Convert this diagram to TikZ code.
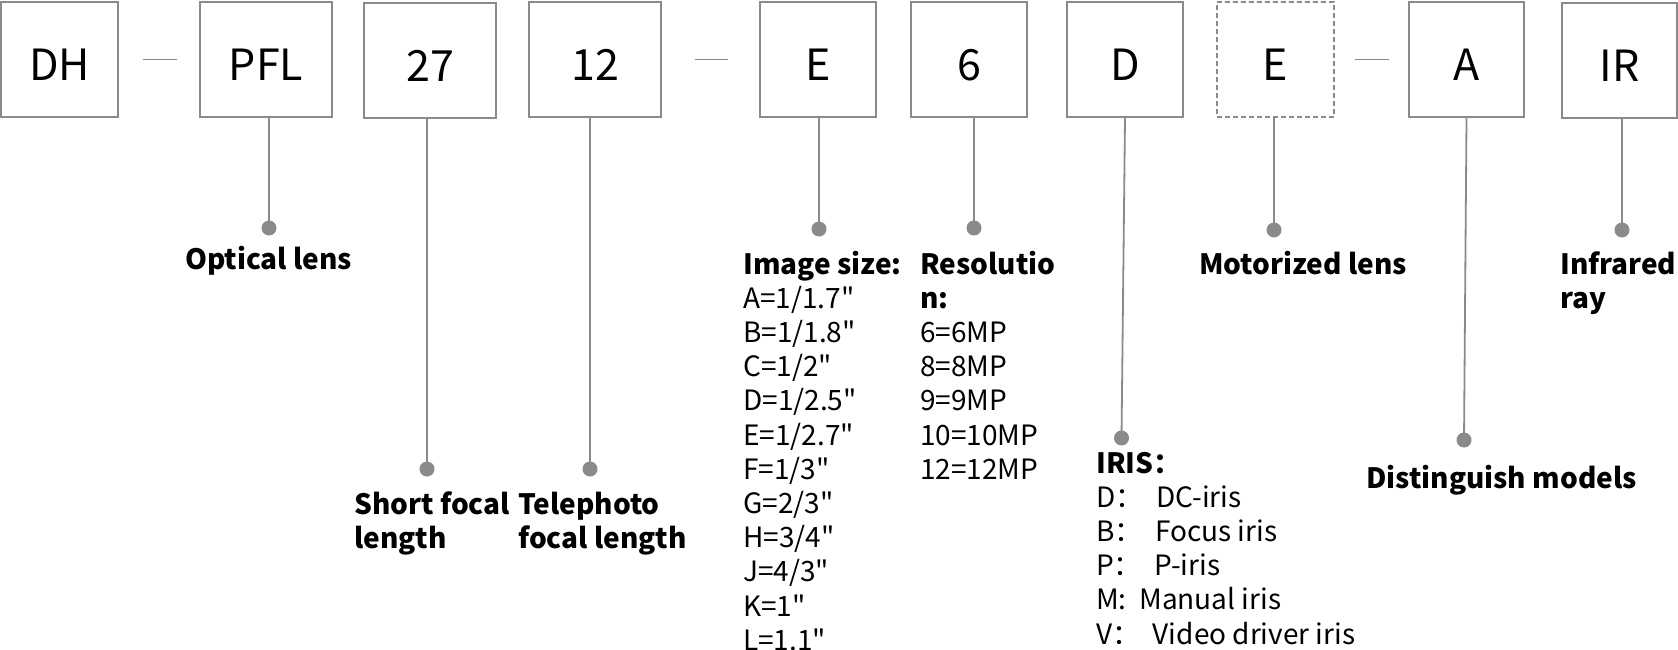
\documentclass[tikz,border=0pt]{standalone}
\usepackage{fontspec}
\setmainfont{Noto Sans CJK SC}[Ligatures=TeXOff]
\definecolor{lg}{HTML}{8A8A8A}
\begin{document}
\begin{tikzpicture}[x=1pt,y=-1pt,
 box/.style={draw=lg, line width=1.8pt, minimum height=115pt, inner sep=0pt, text height=42pt, text depth=0pt, font=\fontsize{43}{50}\selectfont},
 dbox/.style={box, dash pattern=on 5pt off 3pt},
 conn/.style={draw=lg, line width=1.8pt},
 dot/.style={circle, fill=lg, minimum size=15pt, inner sep=0pt},
 lab/.style={anchor=base west, inner sep=0pt, align=left, font=\fontsize{28}{34.2}\selectfont},
 blab/.style={lab, font=\fontsize{28}{34.2}\selectfont\bfseries}]
\useasboundingbox (0,0) rectangle (1678,650);
% boxes
\node[box, minimum width=117pt] (dh) at (59.5,59.5) {DH};
\node[box, minimum width=132pt] (pfl) at (266,59.5) {PFL};
\node[box, minimum width=132pt] (b27) at (430,60.5) {27};
\node[box, minimum width=132pt] (b12) at (595,59.5) {12};
\node[box, minimum width=116pt] (be) at (818,59.5) {E};
\node[box, minimum width=116pt] (b6) at (969,59.5) {6};
\node[box, minimum width=116pt] (bd) at (1125,59.5) {D};
\node[dbox, minimum width=117pt] (bm) at (1275.5,59.5) {E};
\node[box, minimum width=115pt] (ba) at (1466.5,59.5) {A};
\node[box, minimum width=115pt] (bir) at (1619.5,60.5) {IR};
% dashes
\draw[conn] ([xshift=24pt]dh.east) -- ([xshift=-22pt]pfl.west);
\draw[conn] ([xshift=33pt]b12.east) -- ([xshift=-31pt]be.west);
\draw[conn] ([xshift=20pt]bm.east) -- ([xshift=-19pt]ba.west);
% dots
\node[dot] (d1) at (269,228) {};
\node[dot] (d2) at (427,469) {};
\node[dot] (d3) at (590,469) {};
\node[dot] (d4) at (819,229) {};
\node[dot] (d5) at (974,228) {};
\node[dot] (d6) at (1121.5,438) {};
\node[dot] (d7) at (1274,230) {};
\node[dot] (d8) at (1464,440) {};
\node[dot] (d9) at (1622,230) {};
% connectors
\draw[conn] (pfl.south -| d1) -- (d1.center);
\draw[conn] (b27.south -| d2) -- (d2.center);
\draw[conn] (b12.south -| d3) -- (d3.center);
\draw[conn] (be.south -| d4) -- (d4.center);
\draw[conn] (b6.south -| d5) -- (d5.center);
\draw[conn] (bd.south) -- (d6.center);
\draw[conn] (bm.south -| d7) -- (d7.center);
\draw[conn] (ba.south) -- (d8.center);
\draw[conn] (bir.south -| d9) -- (d9.center);
% labels (anchor = baseline of the last line)
\node[blab] (lopt) at (185,269) {Optical lens};
\node[blab] (lshort) at (354,548.2) {Short focal\\length};
\node[blab] (ltele) at (518,548.2) {Telephoto\\focal length};
\node[lab] (limg) at (743,650.2) {\textbf{Image size:}\\A=1/1.7"\\B=1/1.8"\\C=1/2"\\D=1/2.5"\\E=1/2.7"\\F=1/3"\\G=2/3"\\H=3/4"\\J=4/3"\\K=1"\\L=1.1"};
\node[lab] (lres) at (920,479.2) {\textbf{Resolutio}\\\textbf{n:}\\6=6MP\\8=8MP\\9=9MP\\10=10MP\\12=12MP};
\node[lab] (liris) at (1096,644) {\textbf{IRIS：}\\D：\ \ DC-iris\\B：\ \ Focus iris\\P：\ \ P-iris\\M:\ \ Manual iris\\V：\ \ Video driver iris};
\node[blab] (lmot) at (1199,274) {Motorized lens};
\node[blab] (ldist) at (1366,488) {Distinguish models};
\node[blab] (linf) at (1560,308.2) {Infrared\\ray};
\end{tikzpicture}
\end{document}
